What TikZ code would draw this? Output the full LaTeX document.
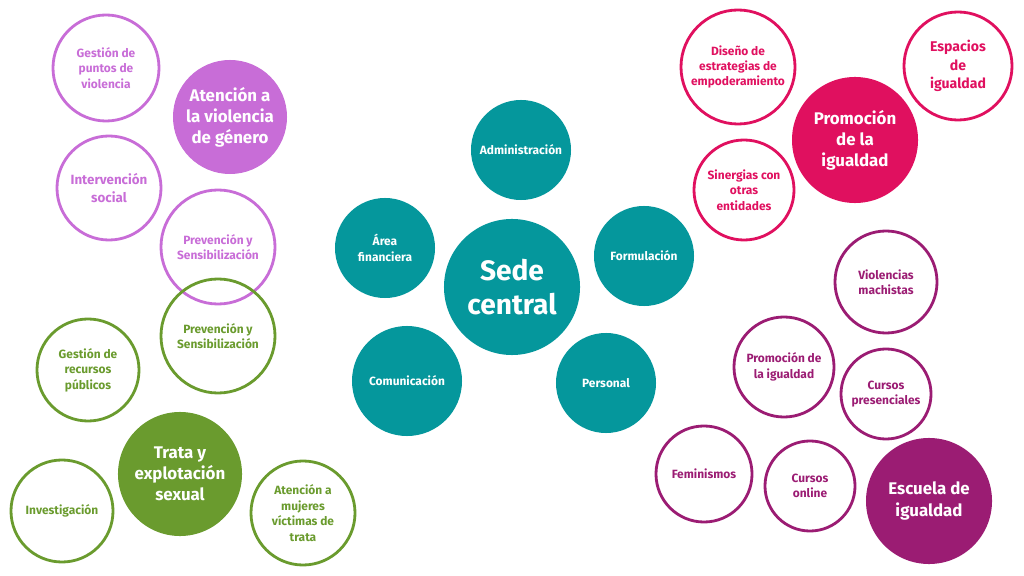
\documentclass[tikz,border=0pt]{standalone}
\usepackage{fontspec}
\setmainfont{Fira Sans}
\definecolor{teal}{HTML}{05979C}
\definecolor{violeta}{HTML}{C86DD7}
\definecolor{verde}{HTML}{6A9B2E}
\definecolor{rosa}{HTML}{E0105F}
\definecolor{magenta}{HTML}{9B1C73}
\tikzset{
  small/.style={circle,line width=2pt,draw=#1,text=#1,align=center,inner sep=0pt,
    font=\fontsize{8.5}{11}\selectfont\bfseries},
  big/.style={circle,fill=#1,text=white,align=center,inner sep=0pt,
    font=\fontsize{12}{15}\selectfont\bfseries},
  core/.style={circle,fill=teal,text=white,align=center,inner sep=0pt,
    font=\fontsize{8.5}{11}\selectfont\bfseries}
}
\begin{document}
\begin{tikzpicture}[x=0.025cm,y=-0.025cm]
  \useasboundingbox (0,0) rectangle (1024,576);
  % sede
  \node[core,minimum size=136\pgflinewidth*0+3.4cm,font=\fontsize{20}{24}\selectfont\bfseries] (sede) at (512,287) {Sede\\central};
  \node[core,minimum size=2.5cm] (admin) at (521,150) {Administración};
  \node[core,minimum size=2.5cm] (finan) at (385,248) {Área\\financiera};
  \node[core,minimum size=2.5cm] (formu) at (644,256) {Formulación};
  \node[core,minimum size=2.75cm] (comun) at (407,381) {Comunicación};
  \node[core,minimum size=2.5cm] (perso) at (606,383) {Personal};
  % violencia de genero
  \node[small=violeta,minimum size=2.65cm] (puntos) at (106,68) {Gestión de\\puntos de\\violencia};
  \node[small=violeta,minimum size=2.6cm,font=\fontsize{9.5}{12.5}\selectfont\bfseries] (interv) at (109,188) {Intervención\\social};
  \node[big=violeta,minimum size=2.85cm] (violen) at (230,117) {Atención a\\la violencia\\de género};
  \node[small=violeta,minimum size=2.85cm] (preva) at (218,247) {Prevención y\\Sensibilización};
  % trata
  \node[small=verde,minimum size=2.85cm] (prevb) at (218,336) {Prevención y\\Sensibilización};
  \node[small=verde,minimum size=2.55cm] (recur) at (88,370) {Gestión de\\recursos\\públicos};
  \node[big=verde,minimum size=3.1cm] (trata) at (180,474) {Trata y\\explotación\\sexual};
  \node[small=verde,minimum size=2.55cm] (inves) at (62,511) {Investigación};
  \node[small=verde,minimum size=2.6cm] (victi) at (303,513) {Atención a\\mujeres\\víctimas de\\trata};
  % igualdad
  \node[small=rosa,minimum size=2.85cm] (disen) at (738,67) {Diseño de\\estrategias de\\empoderamiento};
  \node[small=rosa,minimum size=2.7cm,font=\fontsize{10}{13}\selectfont\bfseries] (espac) at (958,66) {Espacios\\de\\igualdad};
  \node[big=rosa,minimum size=3.15cm] (promo) at (855,140) {Promoción\\de la\\igualdad};
  \node[small=rosa,minimum size=2.5cm] (siner) at (744,190) {Sinergias con\\otras\\entidades};
  % escuela
  \node[small=magenta,minimum size=2.55cm] (machi) at (886,282) {Violencias\\machistas};
  \node[small=magenta,minimum size=2.5cm] (promb) at (784,367) {Promoción de\\la igualdad};
  \node[small=magenta,minimum size=2.25cm] (prese) at (886,394) {Cursos\\presenciales};
  \node[small=magenta,minimum size=2.4cm] (femin) at (704,474) {Feminismos};
  \node[small=magenta,minimum size=2.25cm] (onlin) at (810,486) {Cursos\\online};
  \node[big=magenta,minimum size=3.15cm] (escue) at (929,501) {Escuela de\\igualdad};
\end{tikzpicture}
\end{document}
